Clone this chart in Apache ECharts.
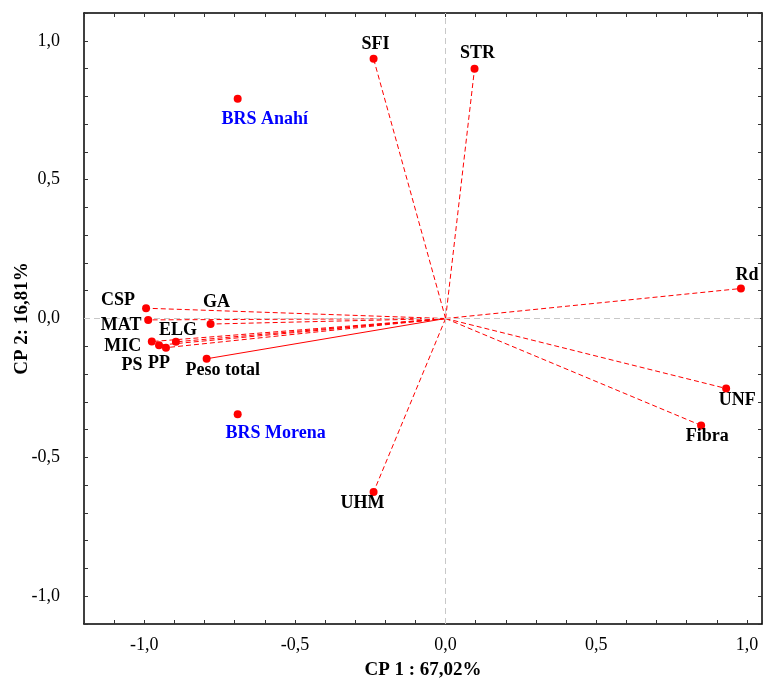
<!DOCTYPE html>
<html>
<head>
<meta charset="utf-8">
<script src="https://cdn.jsdelivr.net/npm/echarts@6/dist/echarts.min.js"></script>
<style>html,body{margin:0;padding:0;background:#fff}#chart{width:763px;height:679px}</style>
</head>
<body>
<div id="chart"></div>
<script>
// Variables (loadings)
const varNames = ['SFI','STR','Rd','UNF','Fibra','UHM','CSP','MAT','GA','MIC','PS','PP','ELG','Peso total'];
const varCP1 = [-0.239, 0.096, 0.980, 0.931, 0.848, -0.239, -0.994, -0.987, -0.780, -0.975, -0.951, -0.928, -0.895, -0.793];
const varCP2 = [0.935, 0.899, 0.108, -0.252, -0.385, -0.625, 0.037, -0.005, -0.020, -0.083, -0.096, -0.105, -0.084, -0.145];
// Cultivars
const cultNames = ['BRS Anahí','BRS Morena'];
const cultCP1 = [-0.690, -0.690];
const cultCP2 = [0.791, -0.345];
// Axis titles
const xTitle = 'CP 1 : 67,02%';
const yTitle = 'CP 2: 16,81%';

// label offsets (style only)
const labelOffset = {
  'SFI':[2,-14], 'STR':[3,-15], 'Rd':[6,-13], 'UNF':[11,12], 'Fibra':[6,11], 'UHM':[-11,11],
  'CSP':[-28,-8], 'MAT':[-27,5], 'GA':[6,-22], 'MIC':[-29,5], 'PS':[-27,20], 'PP':[-7,16],
  'ELG':[2,-11], 'Peso total':[16,12],
  'BRS Anahí':[27,21], 'BRS Morena':[38,19]
};
const solidLines = {'Peso total':true};

const FONT = 'Liberation Serif';
const labelFont = {fontFamily:FONT, fontWeight:'bold', fontSize:18};

function mkItem(name, x, y, color){
  return {
    name: name, value:[x,y],
    label:{show:true, formatter:name, position:'inside', offset:labelOffset[name]||[0,0],
      align:'center', verticalAlign:'middle', color:color, opacity:1,
      textBorderWidth:0, textShadowBlur:0, ...labelFont}
  };
}
const varItems = varNames.map((n,i)=>mkItem(n, varCP1[i], varCP2[i], '#000'));
const cultItems = cultNames.map((n,i)=>mkItem(n, cultCP1[i], cultCP2[i], '#0000ff'));
const lineItems = varNames.map((n,i)=>({
  coords:[[0,0],[varCP1[i],varCP2[i]]],
  lineStyle:{type: solidLines[n] ? 'solid' : [5,3]}
}));

function fmt(v){
  const r = Math.round(v*10);
  if (r % 5 !== 0) return '';
  return (r/10).toFixed(1).replace('.',',').replace('-0,0','0,0');
}
const tickStyle = {show:true, inside:true, length:4, lineStyle:{color:'#333', width:1}};
const lineStyleAx = {show:true, onZero:false, lineStyle:{color:'#000', width:1.5}};

const chart = echarts.init(document.getElementById('chart'), null, {renderer:'canvas'});
chart.setOption({
  animation:false,
  backgroundColor:'#fff',
  grid:{left:84, right:1, top:13, bottom:55, containLabel:false, outerBoundsMode:'none'},
  xAxis:[
    {type:'value', min:-1.2, max:1.05, interval:0.1, position:'bottom',
     axisLine:lineStyleAx, axisTick:tickStyle, splitLine:{show:false},
     axisLabel:{interval:0, formatter:fmt, margin:12, color:'#000', fontFamily:FONT, fontSize:18, showMaxLabel:true, showMinLabel:true},
     name:xTitle, nameLocation:'middle', nameGap:37, nameMoveOverlap:false,
     nameTextStyle:{fontFamily:FONT, fontWeight:'bold', fontSize:19, color:'#000'}},
    {type:'value', min:-1.2, max:1.05, interval:0.1, position:'top',
     axisLine:lineStyleAx, axisTick:tickStyle, splitLine:{show:false}, axisLabel:{show:false}}
  ],
  yAxis:[
    {type:'value', min:-1.1, max:1.1, interval:0.1, position:'left',
     axisLine:lineStyleAx, axisTick:tickStyle, splitLine:{show:false},
     axisLabel:{interval:0, formatter:fmt, margin:24, color:'#000', fontFamily:FONT, fontSize:18},
     name:yTitle, nameLocation:'middle', nameGap:52, nameRotate:90, nameMoveOverlap:false,
     nameTextStyle:{fontFamily:FONT, fontWeight:'bold', fontSize:19, color:'#000'}},
    {type:'value', min:-1.1, max:1.1, interval:0.1, position:'right',
     axisLine:lineStyleAx, axisTick:tickStyle, splitLine:{show:false}, axisLabel:{show:false}}
  ],
  series:[
    {type:'scatter', data:[], xAxisIndex:0, yAxisIndex:0, silent:true,
     markLine:{silent:true, symbol:'none', label:{show:false},
       lineStyle:{color:'#c8c8c8', type:[6,4], width:1},
       data:[{xAxis:0},{yAxis:0}]}},
    {type:'lines', coordinateSystem:'cartesian2d', xAxisIndex:0, yAxisIndex:0, silent:true,
     lineStyle:{color:'#ff0000', width:1, opacity:1}, data:lineItems, z:3},
    {type:'scatter', xAxisIndex:0, yAxisIndex:0, symbol:'circle', symbolSize:8,
     itemStyle:{color:'#ff0000', opacity:1}, data:varItems, z:5},
    {type:'scatter', xAxisIndex:0, yAxisIndex:0, symbol:'circle', symbolSize:8,
     itemStyle:{color:'#ff0000', opacity:1}, data:cultItems, z:5}
  ]
});
</script>
</body>
</html>
